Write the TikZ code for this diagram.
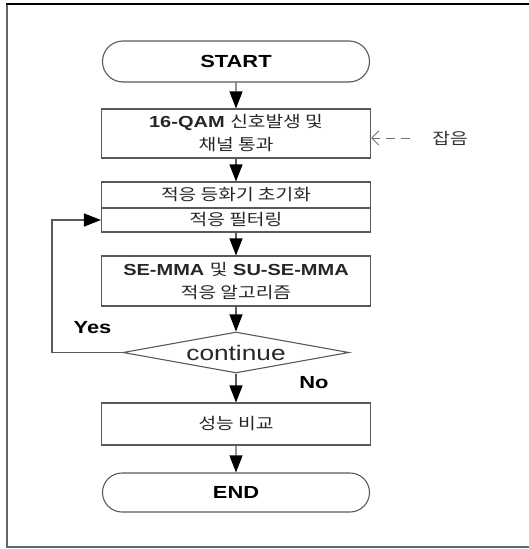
\documentclass[tikz,border=0pt]{standalone}
\usepackage{fontspec}
\setmainfont{Liberation Sans}[FakeStretch=1.25]
\newfontfamily\kr{Noto Sans CJK KR}[FakeStretch=1.2]
\usetikzlibrary{shapes.geometric,shapes.misc,arrows.meta}
\begin{document}
\begin{tikzpicture}[x=1pt,y=-1pt,
  line/.style={draw=black!65, line width=1.1pt},
  box/.style={line, rectangle, minimum width=269pt, inner sep=0pt, align=center, text=black!85,
    font=\fontsize{16}{23}\selectfont},
  term/.style={line, rounded rectangle, minimum width=267pt, inner sep=0pt,
    font=\fontsize{17.5}{20}\selectfont\bfseries},
  arr/.style={line, -{Triangle[length=17pt,width=13pt,color=black]}},
  krf/.style={font=\fontsize{16}{23}\selectfont\kr},
  lbl/.style={font=\fontsize{17.5}{20}\selectfont\bfseries}
]
\useasboundingbox (0,0) rectangle (529,549);
\draw[black!60, line width=1.2pt] (530,547) -- (7,547) -- (7,4);
\draw[black, line width=1.6pt] (6.4,4) -- (530,4);

\node[term, minimum height=41pt] (start) at (236,61.5) {START};
\node[box, minimum height=49pt] (b1) at (236,133.5) {{\bfseries 16-QAM} {\kr 신호발생 및}\\{\kr 채널 통과}};
\node[box, minimum height=26pt, krf] (b2a) at (236,195) {적응 등화기 초기화};
\node[box, minimum height=24pt, krf] (b2b) at (236,220) {적응 필터링};
\node[box, minimum height=50pt] (b3) at (236,281) {{\bfseries SE-MMA} {\kr 및} {\bfseries SU-SE-MMA}\\{\kr 적응 알고리즘}};
\node[line, diamond, shape aspect=5.5, minimum width=226pt, minimum height=41pt, inner sep=0pt,
  font=\fontsize{21}{24}\selectfont, text=black!85] (dec) at (236,352.5) {continue};
\node[box, minimum height=42pt, krf] (b4) at (236,424) {성능 비교};
\node[term, minimum height=39pt] (end) at (236,492.5) {END};

\node[lbl] (yes) at (92.5,328) {Yes};
\node[lbl] (no) at (314,383) {No};

\coordinate (loopx) at (52,0);
\coordinate (n0) at (410,138);
\node[krf, text=black!80] (noise) at (450,138) {잡음};

\draw[arr] (start) -- (b1);
\draw[arr] (b1) -- (b2a);
\draw[arr] (b2b) -- (b3);
\draw[arr] (b3) -- (dec);
\draw[arr] (dec) -- (b4);
\draw[arr] (b4) -- (end);
\draw[arr] (dec.west) -- (dec.west -| loopx) |- (b2b.west);
\draw[draw=black!55, line width=1pt, dash pattern=on 9pt off 6pt,
  -{Straight Barb[length=7pt,width=14pt]}] (n0) -- (n0 -| b1.east);
\end{tikzpicture}
\end{document}
